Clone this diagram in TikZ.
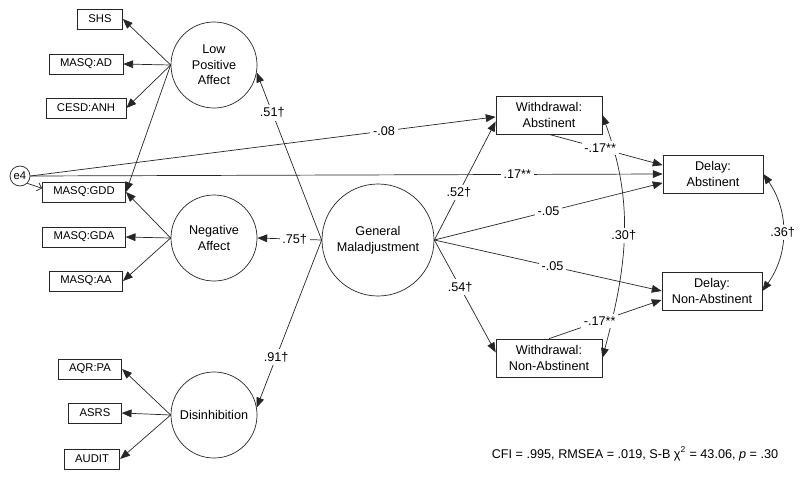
\documentclass[tikz,border=0pt]{standalone}
\usepackage{fontspec}
\setmainfont{Liberation Sans}
\usetikzlibrary{arrows.meta, shapes, calc}

\begin{document}
\begin{tikzpicture}[x=0.025cm, y=-0.025cm, >={Triangle[length=7pt,width=5.5pt]},
    font=\fontsize{9}{11}\selectfont, draw=black!85, line width=0.5pt,
    indicator/.style={draw, rectangle, font=\fontsize{8}{10}\selectfont, minimum height=0.5cm, inner xsep=7.8pt},
    latent/.style={draw, circle, minimum size=2.15cm, inner sep=0pt, align=center},
    outcome/.style={draw, rectangle, minimum height=0.95cm, align=center},
    coef/.style={fill=white, inner sep=2pt}]
    \useasboundingbox (0,0) rectangle (800,479);

    \node [indicator] (shs) at (100,19) {SHS};
    \node [indicator] (masqad) at (86,64) {MASQ:AD};
    \node [indicator] (cesd) at (86,108) {CESD:ANH};
    \node [indicator] (gdd) at (84,192) {MASQ:GDD};
    \node [indicator] (gda) at (84,237) {MASQ:GDA};
    \node [indicator] (aa) at (86,281) {MASQ:AA};
    \node [indicator] (aqr) at (90,369) {AQR:PA};
    \node [indicator] (asrs) at (95,413) {ASRS};
    \node [indicator] (audit) at (92,459) {AUDIT};

    \node [latent] (lpa) at (214,65) {Low\\Positive\\Affect};
    \node [latent] (na) at (214,238) {Negative\\Affect};
    \node [latent] (dis) at (214,415) {Disinhibition};
    \node [latent, minimum size=2.8cm] (gm) at (378,240) {General\\Maladjustment};
    \node [draw, circle, minimum size=0.5cm, inner sep=0pt, font=\fontsize{8}{10}\selectfont] (e4) at (20,176) {e4};

    \node [outcome, minimum width=2.65cm] (wa) at (549,115) {Withdrawal:\\Abstinent};
    \node [outcome, minimum width=2.5cm] (da) at (713,174) {Delay:\\Abstinent};
    \node [outcome, minimum width=2.5cm] (dna) at (712,291) {Delay:\\Non-Abstinent};
    \node [outcome, minimum width=2.65cm] (wna) at (549,358) {Withdrawal:\\Non-Abstinent};

    \node (fit) at (635,454) {CFI = .995, RMSEA = .019, S-B χ\textsuperscript{2} = 43.06, \emph{p} = .30};

    \path[->] (lpa.west) edge (shs.east) edge (masqad.east) edge (cesd.east) edge (gdd.east);
    \path[->] (na.west) edge (gdd.east) edge (gda.east) edge (aa.east);
    \path[->] (dis.west) edge (aqr.east) edge (asrs.east) edge (audit.east);

    \path[<->] (wa.east) edge [out=-70, in=75] node [coef] {.30†} (wna.east);
    \path[<->] (da.east) edge [bend left=35] node [coef] {.36†} (dna.east);

    \path[->] (gm.west) edge node [coef, pos=0.76] {.51†} (lpa.-10)
        edge node [coef, pos=0.42] {.75†} (na.east)
        edge node [coef, pos=0.70] {.91†} (dis.10);
    \path[->] (gm.east) edge node [coef, pos=0.40] {.52†} (wa.187)
        edge node [coef, pos=0.42] {.54†} (wna.174)
        edge node [coef, pos=0.50] {-.05} (da.190)
        edge node [coef, pos=0.52] {-.05} (dna.west);
    \path[->] (e4.east) edge node [coef, pos=0.76] {-.08} (wa.182)
        edge node [coef, pos=0.77] {.17**} (da.west);
    \draw[-{Straight Barb[length=3pt]}] (e4.-45) -- (gdd.175);

    \path[->] (wa.south) edge node [coef, pos=0.45] {-.17**} (da.170);
    \path[->] (wna.north) edge node [coef, pos=0.45] {-.17**} (dna.190);
\end{tikzpicture}
\end{document}
